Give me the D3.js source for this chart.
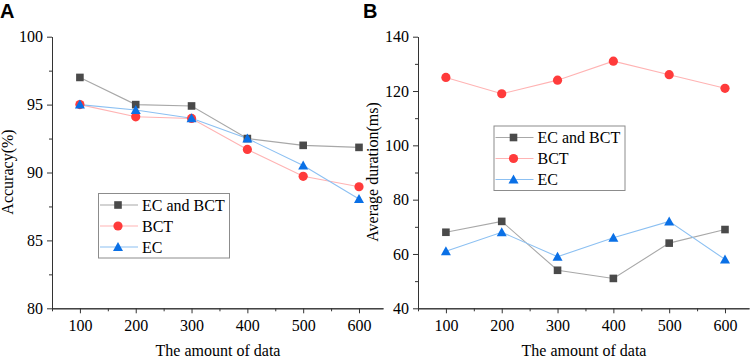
<!DOCTYPE html>
<html>
<head>
<meta charset="utf-8">
<script src="https://cdn.jsdelivr.net/npm/d3@7"></script>
<style>
  body { margin: 0; background: #fff; }
  svg { display: block; }
  .axis text, .serif { font-family: "Liberation Serif", "Times New Roman", serif; font-size: 16px; fill: #000; }
  .axis path, .axis line { stroke: #333; }
  .letter { font-family: "Liberation Sans", Arial, sans-serif; font-weight: bold; font-size: 20px; }
</style>
</head>
<body>
<div id="chart"></div>
<script>
// data
var amounts = [100, 200, 300, 400, 500, 600];
var seriesNames = ["EC and BCT", "BCT", "EC"];

// panel A: accuracy (%)
var accBoth = [97.0, 95.0, 94.9, 92.5, 92.0, 91.85];
var accBCT  = [95.0, 94.1, 93.98, 91.7, 89.72, 88.95];
var accEC   = [95.0, 94.6, 94.0, 92.5, 90.52, 88.05];

// panel B: average duration (ms)
var durBoth = [68.0, 72.0, 54.0, 51.0, 64.0, 69.0];
var durBCT  = [125.0, 119.0, 124.0, 131.0, 126.0, 121.0];
var durEC   = [61.0, 68.0, 59.0, 66.0, 72.0, 58.0];

var xTicks = [100, 200, 300, 400, 500, 600];
var xMinor = [50, 150, 250, 350, 450, 550];
var accTicks = [80, 85, 90, 95, 100];
var accMinor = [82.5, 87.5, 92.5, 97.5];
var durTicks = [40, 60, 80, 100, 120, 140];
var durMinor = [50, 70, 90, 110, 130];

var styles = [
  {marker: "square",   fill: "#4a4a4a", line: "#a8a8a8"},
  {marker: "circle",   fill: "#ff3b3b", line: "#ffb3b3"},
  {marker: "triangle", fill: "#0a70e6", line: "#8cc0f2"}
];

var W = 754, H = 358;
var svg = d3.select("#chart").append("svg")
  .attr("width", W)
  .attr("height", H);

function drawMarker(g, type, x, y, color) {
  if (type === "square") {
    g.append("rect").attr("x", x - 3.8).attr("y", y - 3.8)
      .attr("width", 7.6).attr("height", 7.6).attr("fill", color);
  } else if (type === "circle") {
    g.append("circle").attr("cx", x).attr("cy", y).attr("r", 4.6).attr("fill", color);
  } else {
    g.append("path")
      .attr("d", "M" + x + "," + (y - 5) + "L" + (x + 5) + "," + (y + 4) + "L" + (x - 5) + "," + (y + 4) + "Z")
      .attr("fill", color);
  }
}

function panel(p) {
  var g = svg.append("g");

  var x = d3.scaleLinear().domain([50, 643]).range([p.left, p.left + 331]);
  var y = d3.scaleLinear().domain(p.yDomain).range([308.3, 36.7]);

  // panel letter
  svg.append("text")
    .attr("class", "letter")
    .attr("x", p.letterX).attr("y", 18)
    .text(p.letter);

  // minor ticks
  g.append("g").attr("class", "axis")
    .attr("transform", "translate(0," + y.range()[0] + ")")
    .call(d3.axisBottom(x).tickValues(xMinor).tickSize(3).tickSizeOuter(0).tickFormat(""));
  g.append("g").attr("class", "axis")
    .attr("transform", "translate(" + x.range()[0] + ",0)")
    .call(d3.axisLeft(y).tickValues(p.yMinor).tickSize(3).tickSizeOuter(0).tickFormat(""));

  // major axes
  g.append("g").attr("class", "axis")
    .attr("transform", "translate(0," + y.range()[0] + ")")
    .call(d3.axisBottom(x).tickValues(xTicks).tickSize(5).tickSizeOuter(0).tickPadding(6));
  g.append("g").attr("class", "axis")
    .attr("transform", "translate(" + x.range()[0] + ",0)")
    .call(d3.axisLeft(y).tickValues(p.yTicks).tickSize(5).tickSizeOuter(0).tickPadding(4));

  // axis titles
  svg.append("text")
    .attr("class", "serif")
    .attr("x", p.left + 166).attr("y", 356)
    .attr("text-anchor", "middle")
    .text("The amount of data");
  svg.append("text")
    .attr("class", "serif")
    .attr("transform", "translate(" + p.yTitleX + "," + 172 + ") rotate(-90)")
    .attr("text-anchor", "middle")
    .text(p.yTitle);

  // lines and markers
  var line = d3.line()
    .x(function(d, i){ return x(amounts[i]); })
    .y(function(d){ return y(d); });

  p.series.forEach(function(vals, k) {
    g.append("path")
      .attr("d", line(vals))
      .attr("fill", "none")
      .attr("stroke", styles[k].line)
      .attr("stroke-width", 1.1);
  });
  p.series.forEach(function(vals, k) {
    var mg = g.append("g");
    vals.forEach(function(v, i) {
      drawMarker(mg, styles[k].marker, x(amounts[i]), y(v), styles[k].fill);
    });
  });

  // legend
  var lg = svg.append("g").attr("transform", "translate(" + p.legend[0] + "," + p.legend[1] + ")");
  lg.append("rect")
    .attr("x", 0.5).attr("y", 0.5)
    .attr("width", 131).attr("height", 64.5)
    .attr("fill", "#fff")
    .attr("stroke", "#8c8c8c");
  seriesNames.forEach(function(name, k) {
    var ry = 12 + k * 21;
    lg.append("line")
      .attr("x1", 2).attr("x2", 40)
      .attr("y1", ry).attr("y2", ry)
      .attr("stroke", styles[k].line)
      .attr("stroke-width", 1.1);
    drawMarker(lg, styles[k].marker, 20, ry, styles[k].fill);
    lg.append("text")
      .attr("class", "serif")
      .attr("x", 44).attr("y", ry + 5.5)
      .text(name);
  });
}

panel({
  letter: "A", letterX: 0, left: 52,
  yDomain: [80, 100], yTicks: accTicks, yMinor: accMinor,
  yTitle: "Accuracy(%)", yTitleX: 13,
  series: [accBoth, accBCT, accEC],
  legend: [98, 193]
});

panel({
  letter: "B", letterX: 363, left: 418,
  yDomain: [40, 140], yTicks: durTicks, yMinor: durMinor,
  yTitle: "Average duration(ms)", yTitleX: 378,
  series: [durBoth, durBCT, durEC],
  legend: [493.5, 125.5]
});
</script>
</body>
</html>
